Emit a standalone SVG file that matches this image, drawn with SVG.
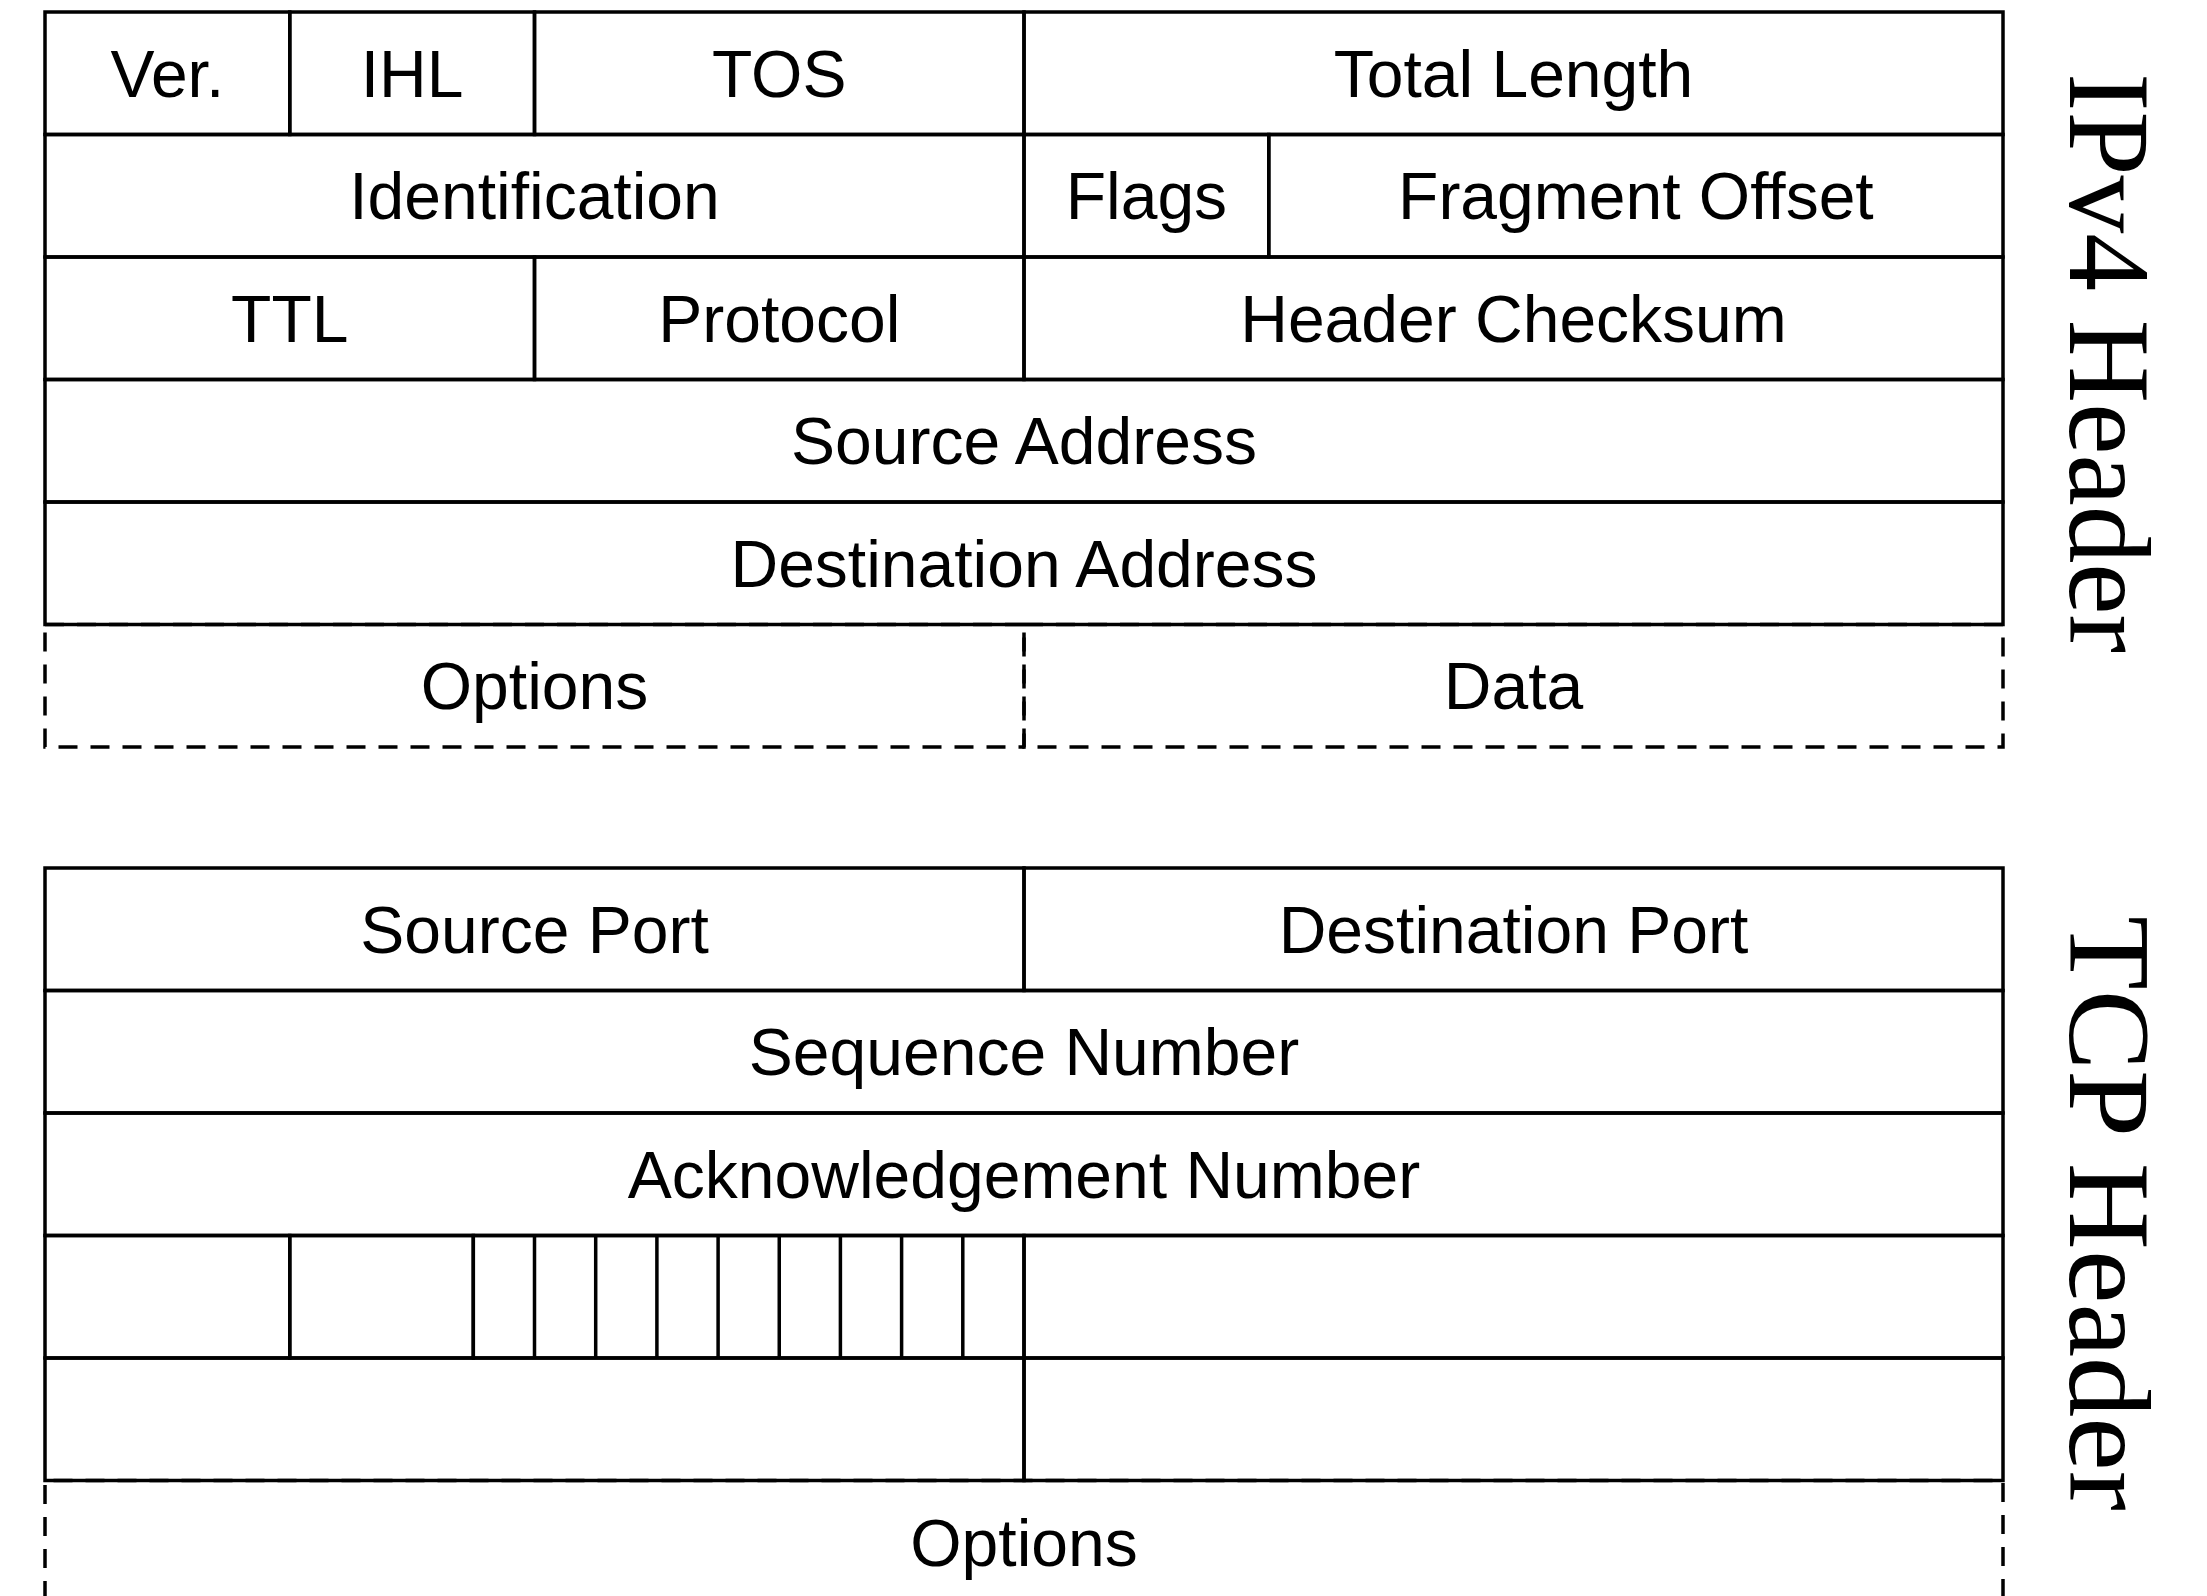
<svg xmlns="http://www.w3.org/2000/svg" width="2207" height="1596" viewBox="0 0 2207 1596">
<style>
.c{fill:none;stroke:#000;stroke-width:3.5}
.d{fill:none;stroke:#000;stroke-width:3.5;stroke-dasharray:19 13}
.t{font-family:"Liberation Sans",Arial,Helvetica,sans-serif;font-size:66px;fill:#000;text-anchor:middle}
.s{font-family:"Liberation Serif","Times New Roman",serif;font-size:117px;fill:#000}
</style>
<rect width="2207" height="1596" fill="#fff"/>
<g id="ipv4">
<g id="ver"><rect class="c" x="45" y="12" width="244.75" height="122.5"/><text class="t" x="167.4" y="96.5">Ver.</text></g>
<g id="ihl"><rect class="c" x="289.75" y="12" width="244.75" height="122.5"/><text class="t" x="412" y="96.5">IHL</text></g>
<g id="tos"><rect class="c" x="534.5" y="12" width="489.5" height="122.5"/><text class="t" x="779.25" y="96.5">TOS</text></g>
<g id="total-length"><rect class="c" x="1024" y="12" width="979" height="122.5"/><text class="t" x="1513.5" y="96.5">Total Length</text></g>
<g id="identification"><rect class="c" x="45" y="134.5" width="979" height="122.5"/><text class="t" x="534.5" y="219">Identification</text></g>
<g id="flags"><rect class="c" x="1024" y="134.5" width="244.75" height="122.5"/><text class="t" x="1146.4" y="219">Flags</text></g>
<g id="fragment-offset"><rect class="c" x="1268.75" y="134.5" width="734.25" height="122.5"/><text class="t" x="1635.9" y="219">Fragment Offset</text></g>
<g id="ttl"><rect class="c" x="45" y="257" width="489.5" height="122.5"/><text class="t" x="289.75" y="341.5">TTL</text></g>
<g id="protocol"><rect class="c" x="534.5" y="257" width="489.5" height="122.5"/><text class="t" x="779.25" y="341.5">Protocol</text></g>
<g id="header-checksum"><rect class="c" x="1024" y="257" width="979" height="122.5"/><text class="t" x="1513.5" y="341.5">Header Checksum</text></g>
<g id="source-address"><rect class="c" x="45" y="379.5" width="1958" height="122.5"/><text class="t" x="1024" y="464">Source Address</text></g>
<g id="destination-address"><rect class="c" x="45" y="502" width="1958" height="122.5"/><text class="t" x="1024" y="586.5">Destination Address</text></g>
<g id="ip-options"><rect class="d" x="45" y="624.5" width="979" height="122.5"/><text class="t" x="534.5" y="709">Options</text></g>
<g id="data"><rect class="d" x="1024" y="624.5" width="979" height="122.5"/><text class="t" x="1513.5" y="709">Data</text></g>
<g id="ipv4-label"><text class="s" transform="translate(2070,73) rotate(90)" textLength="580" lengthAdjust="spacingAndGlyphs">IPv4 Header</text></g>
</g>
<g id="tcp">
<g id="source-port"><rect class="c" x="45" y="868" width="979" height="122.5"/><text class="t" x="534.5" y="952.5">Source Port</text></g>
<g id="destination-port"><rect class="c" x="1024" y="868" width="979" height="122.5"/><text class="t" x="1513.5" y="952.5">Destination Port</text></g>
<g id="sequence-number"><rect class="c" x="45" y="990.5" width="1958" height="122.5"/><text class="t" x="1024" y="1075">Sequence Number</text></g>
<g id="ack-number"><rect class="c" x="45" y="1113" width="1958" height="122.5"/><text class="t" x="1024" y="1197.5">Acknowledgement Number</text></g>
<g id="data-offset"><rect class="c" x="45" y="1235.5" width="244.75" height="122.5"/></g>
<g id="reserved"><rect class="c" x="289.75" y="1235.5" width="183.55" height="122.5"/></g>
<g id="tcp-flags">
<rect class="c" x="473.3" y="1235.5" width="550.7" height="122.5"/>
<path class="c" d="M534.5 1235.5V1358M595.7 1235.5V1358M656.9 1235.5V1358M718.1 1235.5V1358M779.25 1235.5V1358M840.4 1235.5V1358M901.6 1235.5V1358M962.8 1235.5V1358"/>
</g>
<g id="window"><rect class="c" x="1024" y="1235.5" width="979" height="122.5"/></g>
<g id="checksum"><rect class="c" x="45" y="1358" width="979" height="122.5"/></g>
<g id="urgent-pointer"><rect class="c" x="1024" y="1358" width="979" height="122.5"/></g>
<g id="tcp-options"><path class="d" d="M45 1600V1480.5H2003V1600"/><text class="t" x="1024" y="1565.5">Options</text></g>
<g id="tcp-label"><text class="s" transform="translate(2070,916) rotate(90)" textLength="595" lengthAdjust="spacingAndGlyphs">TCP Header</text></g>
</g>
<g id="connectors"/>
</svg>
